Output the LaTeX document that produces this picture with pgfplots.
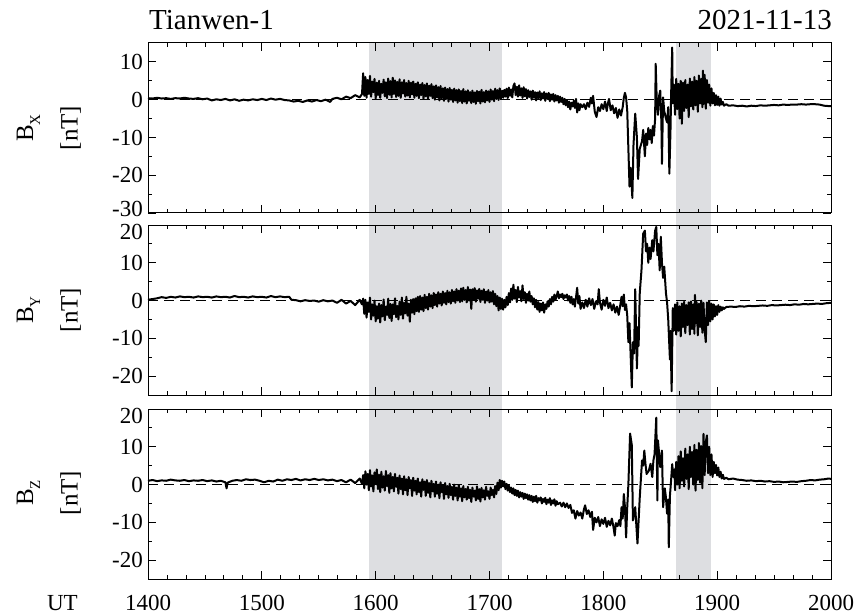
\documentclass[border=0pt]{standalone}
\usepackage{fontspec}
\setmainfont{Liberation Serif}
\usepackage{pgfplots}
\pgfplotsset{compat=1.18}
\definecolor{shadegray}{RGB}{221,222,225}
\pgfplotsset{
  panel/.style={
    width=683pt, height=170pt, scale only axis,
    xmin=1400, xmax=2000,
    xtick={1400,1500,...,2000},
    minor x tick num=5,
    minor y tick num=1,
    tick align=inside,
    major tick length=8pt, minor tick length=4pt,
    axis on top, clip=false,
    axis line style={line width=1pt},
    tick style={black, line width=0.8pt},
    tick label style={font=\fontsize{23}{23}\selectfont},
    yticklabel style={anchor=base east, inner sep=0pt, xshift=-5pt, yshift=-7.6pt},
    xticklabel style={anchor=base, inner sep=0pt, yshift=-31pt},
  },
  trace/.style={black, line width=2pt, line join=round},
  zeroline/.style={black, line width=0.7pt, dash pattern=on 10pt off 6pt},
}
\begin{document}
\begin{tikzpicture}
\useasboundingbox (0pt,0pt) rectangle (862pt,-615pt);
% ---------------- Panel 1: BX ----------------
\begin{axis}[panel, at={(148pt,-43pt)}, anchor=north west,
  ymin=-30, ymax=15, ytick={-30,-20,-10,0,10},
  yticklabels={\raisebox{4pt}{-30},-20,-10,0,10}, xticklabels={}]
\addplot[fill=shadegray, draw=none] coordinates {(1594,-33.2)(1594,15)(1711,15)(1711,-33.2)};
\addplot[fill=shadegray, draw=none] coordinates {(1864,-33.2)(1864,15)(1895,15)(1895,-33.2)};
\addplot[zeroline] coordinates {(1400,0)(2000,0)};
\addplot[trace] coordinates {
(1400,0.4)(1404,0.3)(1408,0.5)(1412,0.3)(1416,0.4)(1420,0.2)(1424,0.4)(1428,0.3)(1432,0.5)(1436,0.3)(1440,0.2)(1444,0.4)(1448,0.1)(1452,0.3)(1456,-0.2)(1460,0.1)(1464,-0.1)(1468,0.2)(1472,-0.2)(1476,0.1)(1480,-0.3)(1484,0.0)(1488,-0.2)(1492,0.1)(1496,-0.1)(1500,0.2)(1504,-0.1)(1508,0.3)(1512,0.0)(1516,0.2)(1520,-0.1)(1524,-0.2)(1528,-0.5)(1532,-0.3)(1536,-0.6)(1540,-0.2)(1544,-0.5)(1548,-0.1)(1552,-0.4)(1556,0.0)(1560,-0.6)(1562,0.2)(1566,0.5)(1570,0.1)(1574,0.8)(1578,0.4)(1582,1.2)(1586,0.6)(1588,1.5)
(1589,7.0)(1590,1.0)(1591,6.0)(1592,0.5)(1593,5.2)(1594,1.5)(1595,6.3)(1596,0.8)(1597,4.8)(1598,2.0)(1599,5.5)(1600,0.3)(1601,4.5)(1602,1.2)(1603,5.0)(1604,0.5)(1605,4.2)(1606,1.8)(1607,5.3)(1608,0.9)(1609,4.6)(1610,0.4)(1611,5.6)(1612,1.3)(1613,4.9)(1614,0.6)(1615,5.8)(1616,1.5)(1617,5.1)(1618,0.7)(1619,4.7)(1620,1.0)(1621,5.4)(1622,0.5)(1623,4.6)(1624,1.6)(1625,5.2)(1626,0.8)(1627,4.4)(1628,1.1)(1629,5.0)(1630,0.6)(1631,4.5)(1632,1.4)(1633,4.8)(1634,0.5)(1635,4.2)(1636,1.0)(1637,4.6)(1638,0.4)(1639,4.0)(1640,1.2)(1641,4.4)(1642,0.3)(1643,3.9)(1644,0.9)(1645,4.3)(1646,0.2)(1647,3.7)(1648,1.0)(1649,4.1)(1650,0.4)(1651,3.5)(1652,0.0)(1653,3.8)(1654,0.6)(1655,3.3)(1656,-0.2)(1657,3.6)(1658,0.4)(1659,3.0)(1660,-0.3)(1661,3.2)(1662,0.2)(1663,2.8)(1664,-0.5)(1665,3.1)(1666,0.0)(1667,2.6)(1668,-0.6)(1669,2.9)(1670,-0.2)(1671,2.5)(1672,-0.8)(1673,2.7)(1674,-0.4)(1675,2.3)(1676,-0.9)(1677,2.8)(1678,-0.5)(1679,2.2)(1680,-1.0)(1681,2.5)(1682,-0.3)(1683,2.0)(1684,-0.9)(1685,2.4)(1686,-0.6)(1687,1.9)(1688,-1.1)(1689,2.3)(1690,-0.4)(1691,2.1)(1692,-1.0)(1693,2.6)(1694,-0.5)(1695,2.0)(1696,-0.7)(1697,2.4)(1698,-0.2)(1699,2.2)(1700,-0.6)(1701,2.7)(1702,0.0)(1703,2.3)(1704,-0.4)(1705,2.9)(1706,0.2)(1707,2.5)(1708,-0.1)(1709,3.0)(1710,0.3)(1711,2.4)
(1712,0.5)(1713,2.6)(1714,0.8)(1715,2.9)(1716,0.4)(1717,3.2)(1718,1.0)(1719,2.7)(1720,0.6)(1721,3.6)(1722,4.3)(1723,1.2)(1724,3.4)(1725,0.8)(1726,3.8)(1727,1.1)(1728,3.0)(1729,0.5)(1730,3.3)(1731,0.9)(1732,2.8)(1733,0.3)(1734,2.5)(1735,0.7)(1736,2.2)(1737,0.0)(1738,2.4)(1739,0.5)(1740,2.0)(1741,-0.2)(1742,1.9)(1743,0.4)(1744,2.2)(1745,-0.1)(1746,1.7)(1747,0.3)(1748,2.0)(1749,-0.3)(1750,1.6)(1751,0.2)(1752,1.8)(1753,-0.4)(1754,1.4)(1755,0.0)(1756,1.5)(1757,-0.5)(1758,1.2)(1759,-0.2)(1760,1.0)(1761,-0.8)(1762,0.8)(1763,-0.6)(1764,0.5)(1765,-1.2)(1766,0.2)(1767,-1.5)(1768,-0.2)(1769,-2.0)(1770,-0.5)(1771,-2.6)(1772,-0.8)(1773,-1.8)(1774,-0.3)(1775,-2.2)(1776,0.2)(1777,-3.4)(1778,-1.0)(1779,-2.8)(1780,-1.2)
(1781.5,-2.0)(1783,-1.2)(1784.5,-2.5)(1786,-0.8)(1787.5,-1.9)(1789,0.5)(1790,-1.0)(1791,1.0)(1792.5,-3.2)(1794,-4.6)(1795.5,-2.0)(1797,-3.0)(1798.5,-1.2)(1800,-2.5)(1801.5,-0.5)(1803,-3.0)(1804,-1.0)(1805,0.2)(1806.5,-2.8)(1808,-1.5)(1809.5,-3.6)(1811,-2.2)(1812.5,-4.8)(1814,-2.6)(1815.5,-4.2)(1817,-2.0)(1818,0.5)(1819,1.8)(1820,0.6)(1821,-3.0)
(1823,-23)(1824,-18)(1825.5,-26)(1826.5,-12)(1828,-3.7)(1829.5,-10)(1830.5,-21)(1832,-13)(1834,-11)(1835,-8)(1836.5,-15)(1837.5,-9)(1838.5,-12)(1839.5,-7.5)(1840.5,-10.5)(1841.5,-8)(1842.5,-11.5)(1843.5,-7)(1844.5,-9.5)(1845.5,-5)(1846,9.5)(1847,-1)(1848,-4)(1849,1)(1850,2.4)(1851,-6)(1851.5,-17)(1852.5,0.6)(1853.5,-3)(1855,-5)(1856,-6)(1857,-2)(1858,-19.6)(1859,-8)(1859.5,0.5)(1860.5,13.8)(1861,-1)(1862,4)
(1863,-4.0)(1864,5.5)(1865,-2.5)(1866,4.2)(1867,-5.0)(1868,5.0)(1869,-6.4)(1870,4.5)(1871,-3.0)(1872,5.2)(1873,-2.2)(1874,4.0)(1875,-4.6)(1876,5.6)(1877,-1.8)(1878,4.8)(1879,-2.6)(1880,6.0)(1881,-1.5)(1882,5.0)(1883,-3.2)(1884,6.4)(1885,-1.0)(1886,5.5)(1887,-2.0)(1887.5,7.7)(1888,-1.2)(1889,6.6)(1890,-2.4)(1891,5.2)(1892,-0.8)(1893,4.0)(1894,-1.6)(1895,3.0)(1896,-1.0)(1897,1.8)(1898,-1.5)(1899,1.2)(1900,-1.4)(1901,0.8)(1902,-1.6)(1903,0.3)(1904,-1.3)(1905,-0.6)(1906,-1.6)(1908,-1.2)
(1910,-1.6)(1914,-1.5)(1918,-1.7)(1922,-1.6)(1926,-1.8)(1930,-1.6)(1934,-1.7)(1938,-1.5)(1942,-1.6)(1946,-1.5)(1950,-1.4)(1954,-1.5)(1958,-1.3)(1962,-1.4)(1966,-1.3)(1970,-1.3)(1974,-1.2)(1978,-1.3)(1982,-1.2)(1986,-1.2)(1990,-1.3)(1994,-1.6)(1998,-1.7)(2000,-1.7)
};
\end{axis}
% ---------------- Panel 2: BY ----------------
\begin{axis}[panel, at={(148pt,-225pt)}, anchor=north west,
  ymin=-25, ymax=20, ytick={-20,-10,0,10,20},
  yticklabels={-20,-10,0,10,\raisebox{-7pt}{20}}, xticklabels={}]
\addplot[fill=shadegray, draw=none] coordinates {(1594,-28.7)(1594,20)(1711,20)(1711,-28.7)};
\addplot[fill=shadegray, draw=none] coordinates {(1864,-28.7)(1864,20)(1895,20)(1895,-28.7)};
\addplot[zeroline] coordinates {(1400,0)(2000,0)};
\addplot[trace] coordinates {
(1400,0.2)(1404,0.4)(1408,0.6)(1412,0.9)(1416,0.7)(1420,1.0)(1424,0.8)(1428,1.1)(1432,0.9)(1436,1.0)(1440,0.8)(1444,1.1)(1448,0.9)(1452,1.0)(1456,0.8)(1460,1.1)(1464,0.9)(1468,1.0)(1472,0.8)(1476,1.2)(1480,0.9)(1484,1.0)(1488,0.8)(1492,1.1)(1496,0.9)(1500,1.0)(1504,0.8)(1508,1.2)(1512,0.9)(1516,1.1)(1520,0.9)(1524,1.0)(1526,0.2)(1530,0.1)(1534,-0.2)(1538,0.1)(1542,-0.1)(1546,0.0)(1550,-0.3)(1554,0.1)(1558,-0.2)(1562,0.0)(1566,-0.6)(1570,0.2)(1574,-0.8)(1578,-0.1)(1582,-1.2)(1586,0.2)(1588,-1.0)
(1589,0.5)(1590,-3.5)(1591,0.2)(1592,-4.5)(1593,-0.5)(1594,-3.0)(1595,0.8)(1596,-5.0)(1597,-1.0)(1598,-4.0)(1599,0.0)(1600,-5.5)(1601,-1.5)(1602,-4.8)(1603,-0.8)(1604,-5.8)(1605,-1.2)(1606,-4.2)(1607,0.3)(1608,-5.2)(1609,-1.6)(1610,-3.8)(1611,0.5)(1612,-4.6)(1613,-0.9)(1614,-5.4)(1615,-1.0)(1616,-3.6)(1617,0.6)(1618,-4.4)(1619,-1.4)(1620,-5.0)(1621,-0.3)(1622,-3.8)(1623,0.8)(1624,-4.8)(1625,-0.6)(1626,-3.4)(1627,1.0)(1628,-4.0)(1629,-0.8)(1630,-5.6)(1631,0.2)(1632,-3.2)(1633,0.4)(1634,-3.6)(1635,0.6)(1636,-2.8)(1637,1.0)(1638,-3.0)(1639,1.2)(1640,-2.4)(1641,0.8)(1642,-2.8)(1643,1.5)(1644,-2.0)(1645,1.0)(1646,-2.4)(1647,1.8)(1648,-1.6)(1649,1.4)(1650,-2.0)(1651,2.0)(1652,-1.2)(1653,1.6)(1654,-1.6)(1655,2.2)(1656,-0.8)(1657,1.8)(1658,-1.3)(1659,2.4)(1660,-0.6)(1661,2.0)(1662,-1.0)(1663,2.6)(1664,-0.4)(1665,2.2)(1666,-0.8)(1667,2.8)(1668,-0.2)(1669,2.4)(1670,-0.6)(1671,3.0)(1672,0.0)(1673,2.6)(1674,-0.4)(1675,3.2)(1676,-0.2)(1677,3.4)(1678,0.2)(1679,2.8)(1680,-0.5)(1681,3.6)(1682,0.0)(1683,2.9)(1684,-2.2)(1685,3.0)(1686,0.3)(1687,3.3)(1688,-0.3)(1689,2.7)(1690,0.5)(1691,3.1)(1692,-0.4)(1693,2.6)(1694,0.2)(1695,3.0)(1696,-0.6)(1697,2.4)(1698,0.0)(1699,2.8)(1700,-0.5)(1701,2.2)(1702,-0.3)(1703,2.5)(1704,-1.0)(1705,1.8)(1706,-1.5)(1707,1.2)(1708,-2.6)(1709,0.8)(1710,-2.2)(1711,0.5)
(1712,-2.4)(1713,0.2)(1714,-1.8)(1715,1.0)(1716,-1.2)(1717,2.0)(1718,-0.5)(1719,3.2)(1720,0.2)(1721,4.2)(1722,0.5)(1723,2.8)(1724,-0.4)(1725,3.6)(1726,0.8)(1727,2.5)(1728,-0.2)(1729,4.0)(1730,0.4)(1731,2.2)(1732,-0.6)(1733,1.8)(1734,0.0)(1735,2.4)(1736,-0.3)(1737,1.2)(1738,-1.0)(1739,0.6)(1740,-1.8)(1741,0.2)(1742,-2.4)(1743,-0.4)(1744,-3.0)(1745,-0.8)(1746,-2.6)(1747,-0.5)(1748,-3.2)(1749,-1.0)(1750,-2.2)(1751,-0.2)(1752,-1.6)(1753,0.4)(1754,-1.0)(1755,1.0)(1756,-0.3)(1757,1.6)(1758,0.2)(1759,1.2)(1760,2.4)(1761,0.6)(1762,1.6)(1763,0.9)(1764,1.8)(1765,0.4)(1766,1.4)(1767,0.8)(1768,1.6)(1769,0.0)(1770,1.2)(1771,-0.6)(1772,1.0)(1773,-1.0)(1774,0.4)(1775,-1.6)(1776,0.8)(1777,3.4)(1778,-0.8)(1779,1.2)(1780,-2.2)
(1781.5,-0.5)(1783,-2.0)(1784.5,0.2)(1786,-1.6)(1787.5,0.6)(1789,-1.2)(1790.5,0.4)(1792,-2.2)(1793.5,-0.2)(1795,-1.0)(1796,3.0)(1797,-0.5)(1798.5,-2.4)(1800,0.2)(1801.5,-1.4)(1803,0.8)(1804.5,-2.0)(1806,-0.6)(1807.5,-2.6)(1809,-1.0)(1810.5,-3.2)(1812,-1.6)(1813.5,-3.8)(1815,-1.0)(1816,1.0)(1817,-1.5)(1818,1.6)(1819,-2.5)(1820,-1.0)(1821,-4.0)
(1822,-11)(1823,-6)(1825,-23)(1826,-11)(1827,-14)(1828,3)(1829.5,-18)(1830.5,-7)(1831,-12)(1832,2)(1833.5,8)(1835,17.7)(1836.5,18.5)(1837.5,13)(1838.5,15)(1839.5,10)(1840.5,14)(1841.5,11)(1843,16)(1844,13)(1845.5,18.5)(1846.5,19.5)(1847.5,12)(1848.5,15)(1849.5,8)(1850.5,16.9)(1851.5,10)(1852.5,6)(1853.5,9)(1855,2)(1856,-0.5)(1857,-5)(1858.5,-15.6)(1859,-8)(1860,-24)(1861,-2)(1862,-8)
(1863,-1.0)(1864,-9.0)(1865,-0.5)(1866,-8.0)(1867,-1.5)(1868,-9.5)(1869,-0.8)(1870,-7.0)(1871,-0.3)(1872,-8.6)(1873,-1.2)(1874,-6.5)(1875,-0.5)(1876,-9.0)(1877,-0.2)(1878,-7.5)(1879,-1.0)(1880,-8.8)(1880.5,1.5)(1881,-6.0)(1882,-0.4)(1883,-9.2)(1884,-0.8)(1885,-7.0)(1886,0.0)(1887,-8.5)(1888,-0.6)(1889,-7.8)(1890,-11.0)(1891,-0.5)(1892,-6.5)(1893,-0.2)(1894,-5.5)(1895,-0.8)(1896,-5.0)(1897,-1.0)(1898,-4.2)(1899,-1.5)(1900,-3.8)(1901,-1.2)(1902,-3.0)(1903,-1.6)(1904,-2.6)(1905,-1.8)(1906,-2.2)
(1908,-1.7)(1912,-1.6)(1916,-1.7)(1920,-1.5)(1924,-1.6)(1928,-1.4)(1932,-1.5)(1936,-1.4)(1940,-1.3)(1944,-1.4)(1948,-1.2)(1952,-1.3)(1956,-1.2)(1960,-1.1)(1964,-1.2)(1968,-1.0)(1972,-1.1)(1976,-0.9)(1980,-1.0)(1984,-0.9)(1988,-0.8)(1992,-0.9)(1996,-0.7)(2000,-0.6)
};
\end{axis}
% ---------------- Panel 3: BZ ----------------
\begin{axis}[panel, at={(148pt,-409pt)}, anchor=north west,
  ymin=-25, ymax=20, ytick={-20,-10,0,10,20},
  yticklabels={-20,-10,0,10,\raisebox{-7pt}{20}},
  xticklabels={1400,1500,1600,1700,1800,1900,2000}]
\addplot[fill=shadegray, draw=none] coordinates {(1594,-25)(1594,20)(1711,20)(1711,-25)};
\addplot[fill=shadegray, draw=none] coordinates {(1864,-25)(1864,20)(1895,20)(1895,-25)};
\addplot[zeroline] coordinates {(1400,0)(2000,0)};
\addplot[trace] coordinates {
(1400,1.0)(1404,1.2)(1408,0.9)(1412,1.1)(1416,1.0)(1420,1.3)(1424,1.1)(1428,1.0)(1432,1.2)(1436,0.9)(1440,1.1)(1444,1.0)(1448,1.2)(1452,0.9)(1456,1.1)(1460,0.8)(1464,1.0)(1468,0.6)(1469,-1.0)(1470,0.5)(1474,1.0)(1478,1.2)(1482,1.0)(1486,1.4)(1490,1.2)(1494,1.3)(1498,1.0)(1502,0.6)(1506,1.0)(1510,0.8)(1514,1.3)(1518,1.0)(1522,1.4)(1526,1.2)(1530,1.5)(1534,1.1)(1538,1.4)(1542,1.2)(1546,1.5)(1550,1.2)(1554,1.4)(1558,1.1)(1562,1.3)(1566,0.9)(1570,1.2)(1574,0.6)(1578,1.3)(1582,0.4)(1586,1.6)(1588,0.2)
(1589,2.5)(1590,-1.0)(1591,3.5)(1592,0.0)(1593,2.8)(1594,-1.5)(1595,3.8)(1596,-0.5)(1597,2.4)(1598,-1.8)(1599,3.2)(1600,0.2)(1601,4.0)(1602,-1.2)(1603,2.6)(1604,-2.0)(1605,3.4)(1606,-0.8)(1607,2.2)(1608,-1.6)(1609,3.6)(1610,-0.4)(1611,2.5)(1612,-2.2)(1613,3.0)(1614,-1.0)(1615,2.0)(1616,-1.8)(1617,2.8)(1618,-0.6)(1619,1.8)(1620,-2.4)(1621,2.4)(1622,-1.2)(1623,1.6)(1624,-2.6)(1625,2.2)(1626,-1.5)(1627,1.4)(1628,-2.8)(1629,2.0)(1630,-1.0)(1631,1.2)(1632,-3.0)(1633,1.8)(1634,-1.6)(1635,1.0)(1636,-2.6)(1637,1.6)(1638,-2.0)(1639,0.6)(1640,-3.2)(1641,1.4)(1642,-1.4)(1643,0.8)(1644,-3.0)(1645,1.2)(1646,-2.2)(1647,0.4)(1648,-3.4)(1649,1.0)(1650,-1.8)(1651,0.2)(1652,-3.2)(1653,0.8)(1654,-2.4)(1655,0.0)(1656,-3.6)(1657,0.6)(1658,-2.0)(1659,-0.2)(1660,-3.8)(1661,0.4)(1662,-2.6)(1663,-0.4)(1664,-3.5)(1665,0.2)(1666,-2.8)(1667,-0.6)(1668,-4.0)(1669,0.0)(1670,-3.0)(1671,-0.8)(1672,-4.2)(1673,-0.2)(1674,-3.2)(1675,-1.0)(1676,-4.4)(1677,-0.4)(1678,-3.4)(1679,-1.2)(1680,-4.0)(1681,-0.6)(1682,-3.6)(1683,-1.4)(1684,-4.6)(1685,-0.8)(1686,-3.2)(1687,-1.6)(1688,-4.2)(1689,-0.5)(1690,-3.8)(1691,-1.2)(1692,-4.5)(1693,-0.9)(1694,-3.4)(1695,-1.5)(1696,-4.0)(1697,-0.6)(1698,-3.0)(1699,-1.8)(1700,-3.8)(1701,-0.8)(1702,-2.8)(1703,-1.4)(1704,-3.4)(1705,-0.4)(1706,-2.5)(1707,0.5)(1708,-1.5)(1709,1.2)(1710,-0.8)(1711,1.0)
(1712,-0.5)(1713,0.8)(1714,-1.2)(1715,0.2)(1716,-1.6)(1717,-0.3)(1718,-2.0)(1719,-0.8)(1720,-2.4)(1721,-1.0)(1722,-2.8)(1723,-1.4)(1724,-3.0)(1725,-1.6)(1726,-3.4)(1727,-2.0)(1728,-3.2)(1729,-2.2)(1730,-3.8)(1731,-2.4)(1732,-3.6)(1733,-2.6)(1734,-4.0)(1735,-2.8)(1736,-4.2)(1737,-3.0)(1738,-4.6)(1739,-3.2)(1740,-4.4)(1741,-3.0)(1742,-4.8)(1743,-3.6)(1744,-4.2)(1745,-3.4)(1746,-5.0)(1747,-3.8)(1748,-4.6)(1749,-3.5)(1750,-5.2)(1751,-4.0)(1752,-4.8)(1753,-3.6)(1754,-5.4)(1755,-4.2)(1756,-5.0)(1757,-3.9)(1758,-5.6)(1759,-4.4)(1760,-5.2)(1762,-4.8)
(1763.5,-5.8)(1765,-4.8)(1766.5,-6.0)(1768,-5.0)(1769.5,-6.2)(1771,-5.4)(1772.5,-7.5)(1774,-6.8)(1775.5,-9.0)(1777,-7.0)(1778.5,-8.2)(1780,-7.4)(1781.5,-9.0)(1783,-6.5)(1784,-5.5)(1785.5,-7.8)(1787,-6.8)(1788.5,-8.6)(1790,-7.2)(1791,-12.0)(1792.5,-8.8)(1794,-10.0)(1795.5,-8.6)(1797,-11.0)(1798.5,-9.2)(1800,-10.4)(1801.5,-8.8)(1803,-11.2)(1804.5,-9.6)(1806,-10.8)(1807.5,-9.0)(1809,-11.4)(1810,-13.5)(1811,-10.2)(1812.5,-11.0)(1814,-9.4)(1815,-11.0)(1816,-6.0)(1817,-9.0)(1818,-2.5)(1819,-6.0)(1820,-14.0)(1821,-6.0)(1822,0.0)(1823.5,13.5)(1825,10.5)(1826,-9.5)(1828,-6.0)(1830,-15.6)(1832,-3.4)(1834,6.4)(1835,5.0)(1836,9.0)(1837,5.5)(1838,2.8)(1840,3.7)(1841.5,5.5)(1843,2.0)(1844,6.4)(1845,8.0)(1846.5,17.7)(1847.5,-4.2)(1848,11.7)(1850,4.6)(1851.5,9.0)(1852.5,-6.0)(1854,-1.0)(1855,-3.4)(1856,-7.7)(1857,-4.0)(1857.5,-16.6)(1858.5,-3.0)(1859.5,1.0)(1860.5,5.4)(1861.5,2.0)(1862.5,4.0)
(1863,-1.5)(1864,6.0)(1865,0.0)(1866,7.5)(1867,-1.0)(1868,8.8)(1869,1.0)(1870,7.0)(1871,-0.5)(1872,9.5)(1873,1.5)(1874,8.0)(1875,-1.2)(1876,10.0)(1877,2.0)(1878,8.6)(1879,0.0)(1880,10.5)(1881,-1.6)(1882,9.2)(1883,1.2)(1884,11.0)(1885,0.5)(1886,10.2)(1887,-1.0)(1888,13.4)(1889,2.5)(1890,11.2)(1891,13.0)(1892,3.0)(1893,10.0)(1894,2.5)(1895,8.0)(1896,2.0)(1897,6.0)(1898,3.0)(1899,5.2)(1900,2.4)(1901,4.5)(1902,2.0)(1903,3.4)(1904,1.6)(1905,2.6)(1906,1.5)(1908,1.8)
(1910,1.4)(1914,1.6)(1918,1.3)(1922,1.2)(1926,1.0)(1930,1.1)(1934,0.9)(1938,1.0)(1942,0.8)(1946,0.9)(1950,0.7)(1954,0.8)(1958,0.6)(1962,0.7)(1966,0.8)(1970,0.7)(1974,0.9)(1978,1.0)(1982,1.2)(1986,1.1)(1990,1.3)(1994,1.4)(1998,1.6)(2000,1.5)
};
\end{axis}
% ---------------- Texts ----------------
\node[anchor=base west, inner sep=0pt, font=\fontsize{29}{29}\selectfont] at (149pt,-30pt) {Tianwen-1};
\node[anchor=base east, inner sep=0pt, font=\fontsize{29}{29}\selectfont] at (832pt,-30pt) {2021-11-13};
\node[anchor=base east, inner sep=0pt, font=\fontsize{23}{23}\selectfont] at (78pt,-610pt) {UT};
\foreach \yc/\sub in {128/X, 310/Y, 493/Z} {
  \node[rotate=90, anchor=base, inner sep=0pt, font=\fontsize{25}{25}\selectfont] at (33pt,-\yc pt) {B\raisebox{-7pt}{\fontsize{15}{15}\selectfont \sub}};
  \node[rotate=90, anchor=base, inner sep=0pt, font=\fontsize{25}{25}\selectfont] at (77.5pt,-\yc pt) {[nT]};
}
\end{tikzpicture}
\end{document}
